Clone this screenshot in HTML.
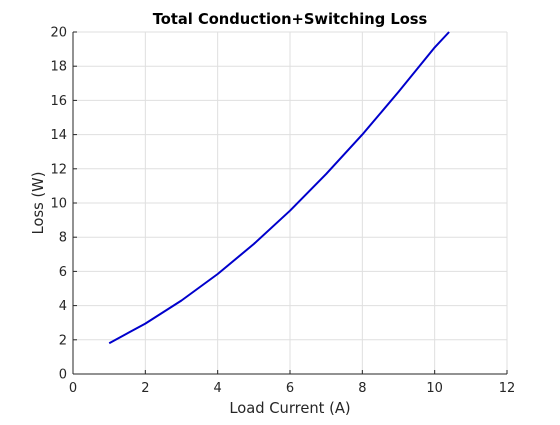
<!DOCTYPE html>
<html><head><meta charset="utf-8"><style>
body{margin:0;background:#fff;}
svg text{font-family:"DejaVu Sans","Liberation Sans",sans-serif;}
</style></head><body>
<svg id="chart" width="560" height="420" xmlns="http://www.w3.org/2000/svg">
<rect width="560" height="420" fill="#fff"/>
<g id="grid"></g>
<g id="axes"></g>
<g id="series"></g>
<text x="290" y="24" text-anchor="middle" font-size="14.7" font-weight="bold" fill="#000">Total Conduction+Switching Loss</text>
<text x="290" y="413" text-anchor="middle" font-size="14.7" fill="#262626">Load Current (A)</text>
<text transform="translate(43,203) rotate(-90)" text-anchor="middle" font-size="14.7" fill="#262626">Loss (W)</text>
</svg>
<script>
const xTicks=[0,2,4,6,8,10,12];
const yTicks=[0,2,4,6,8,10,12,14,16,18,20];
const currents=[1,2,3,4,5,6,7,8,9,10,10.4];
const losses=[1.8,2.95,4.3,5.85,7.6,9.55,11.7,14.0,16.5,19.1,20.0];
const L=73,R=507,T=32,B=374;
const sx=v=>L+(v-0)/(12-0)*(R-L);
const sy=v=>B-(v-0)/(20-0)*(B-T);
const NS="http://www.w3.org/2000/svg";
function mk(tag,attrs,parent){const e=document.createElementNS(NS,tag);for(const k in attrs)e.setAttribute(k,attrs[k]);parent.appendChild(e);return e;}
const grid=document.getElementById('grid'),axes=document.getElementById('axes'),series=document.getElementById('series');
xTicks.forEach(t=>{
  const g=mk('line',{x1:sx(t),x2:sx(t),y1:T,y2:B,stroke:'#dfdfdf','stroke-width':1},grid);
  
  
  const tk=mk('line',{x1:sx(t),x2:sx(t),y1:B,y2:B-4,stroke:'#262626','stroke-width':1},axes);
  
  
  const tx=mk('text',{x:sx(t),y:B+18,'text-anchor':'middle','font-size':13,fill:'#262626'},axes);
  tx.textContent=t;
  
  
});
yTicks.forEach(t=>{
  const g=mk('line',{x1:L,x2:R,y1:sy(t),y2:sy(t),stroke:'#dfdfdf','stroke-width':1},grid);
  
  
  const tk=mk('line',{x1:L,x2:L+4,y1:sy(t),y2:sy(t),stroke:'#262626','stroke-width':1},axes);
  
  
  const tx=mk('text',{x:L-6,y:sy(t)+4.5,'text-anchor':'end','font-size':13,fill:'#262626'},axes);
  tx.textContent=t;
  
  
});
const xa=mk('line',{x1:L,x2:R,y1:B,y2:B,stroke:'#262626','stroke-width':1},axes);


const ya=mk('line',{x1:L,x2:L,y1:T,y2:B,stroke:'#262626','stroke-width':1},axes);


const pts=currents.map((c,i)=>sx(c).toFixed(1)+','+sy(losses[i]).toFixed(1)).join(' ');
const pl=mk('polyline',{points:pts,fill:'none',stroke:'#0000cc','stroke-width':2,'stroke-linejoin':'round'},series);


</script>
</body></html>
